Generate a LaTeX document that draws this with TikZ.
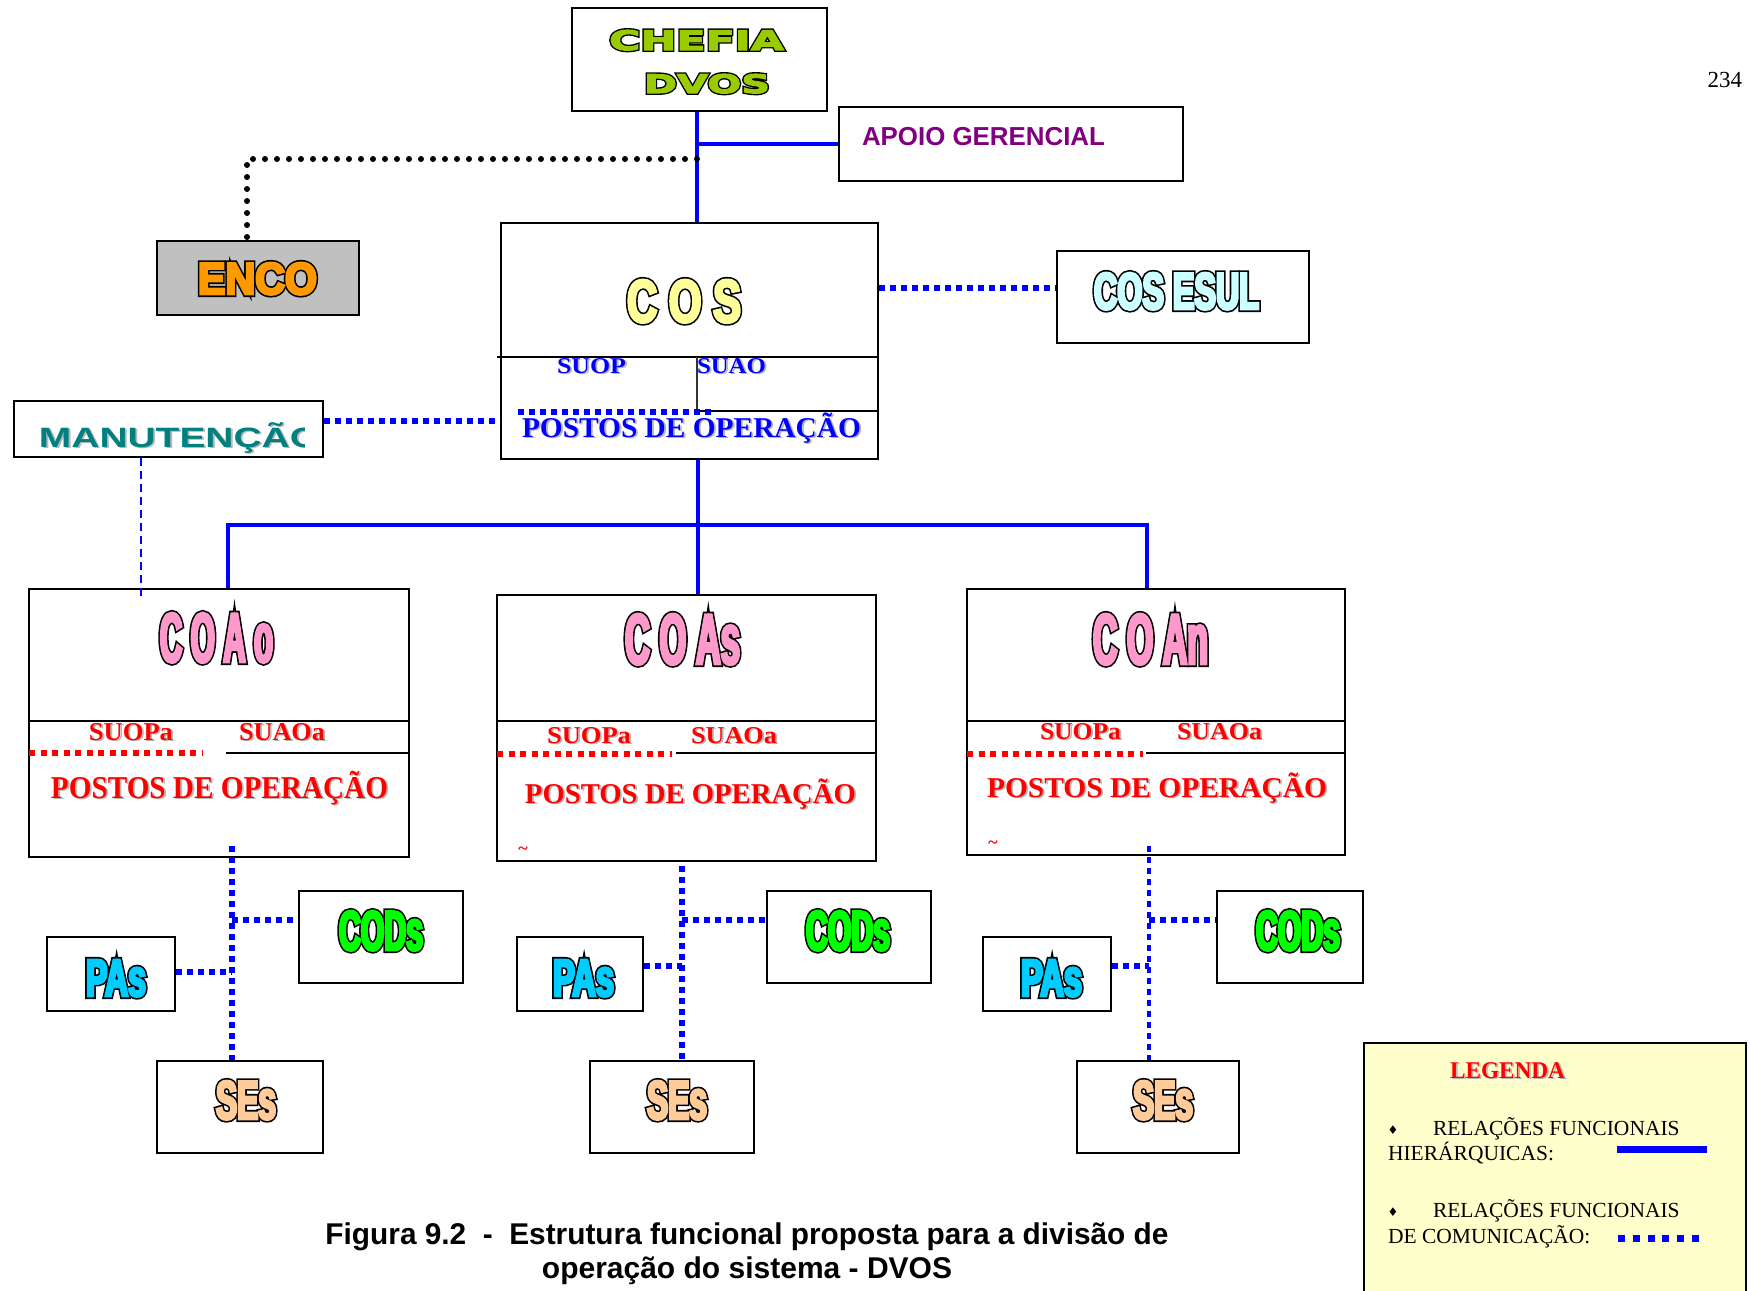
\documentclass[tikz,border=0pt]{standalone}
\usepackage{fontspec}
\usepackage{graphicx}
\usetikzlibrary{calc}
\setmainfont{Liberation Serif}
\newfontfamily\hv{Liberation Sans}
\newfontfamily\dejavu{DejaVu Sans}
\newlength\px \setlength\px{0.5pt}
\newcommand\fs[1]{\fontsize{#1}{#1}\selectfont}
\newcommand\wfit[2]{\resizebox{#1}{\height}{#2}}
% font features: #1 stretch, #2 size (number), #3 stroke width x100 (pt)
\newcommand\ofont[3]{\expanded{\noexpand\addfontfeatures{FakeStretch=#1,FakeBold=\fpeval{round(#3/#2,3)}}}}
% outlined title: #1 fill rgb, #2 width px, #3 height px, #4 stretch, #5 size, #6 family, #7 outer stroke, #8 inner stroke, #9 text
\newcommand\ttl[9]{\leavevmode
 \rlap{\special{pdf:bcolor [0 0 0] [0 0 0]}\resizebox{#2\px}{#3\px}{#6\bfseries\ofont{#4}{#5}{#7}\fs{#5pt}#9}\special{pdf:ecolor}}%
 {\special{pdf:bcolor [#1] [#1]}\resizebox{#2\px}{#3\px}{#6\bfseries\ofont{#4}{#5}{#8}\fs{#5pt}#9}\special{pdf:ecolor}}}
\newcommand\shd[2]{\setbox0=\hbox{#2}\leavevmode
 \rlap{\color{black!28}\kern1.8\px\lower1.8\px\copy0}{\color{#1}\box0}}
\newcommand\rtxt[4]{\shd{#1}{\wfit{#2\px}{\fs{#3}\bfseries #4}}}
\definecolor{apoiopurple}{HTML}{800080}
\definecolor{encogray}{HTML}{C0C0C0}
\definecolor{manteal}{HTML}{008080}
\definecolor{legyellow}{HTML}{FFFFCC}
\definecolor{hblue}{HTML}{0000FF}
\definecolor{hred}{HTML}{FF0000}
\tikzset{
 box/.style={draw=black, line width=2\px, inner sep=0pt},
 lbl/.style={inner sep=0pt, outer sep=0pt},
 hier/.style={draw=hblue, line width=4.5\px},
 comm/.style={draw=hblue, line width=6\px, dash pattern=on 6\px off 5\px},
 commv/.style={draw=hblue, line width=6\px, dash pattern=on 6\px off 5\px},
 commthin/.style={draw=hblue, line width=3.5\px, dash pattern=on 6\px off 5\px},
 blkdot/.style={draw=black, line width=6\px, line cap=round, dash pattern=on 0pt off 12\px},
 redot/.style={draw=hred, line width=5.5\px, dash pattern=on 6\px off 5.5\px},
 thindash/.style={draw=hblue, line width=2\px, dash pattern=on 8\px off 5\px},
 sep/.style={draw=black, line width=2\px},
}
\begin{document}
\begin{tikzpicture}[x=0.5pt,y=-0.5pt]
\useasboundingbox (0,0) rectangle (1750,1290);
% ---------- boxes
\node[box, minimum width=255\px, minimum height=103\px] (chefia) at (699.5,59.5) {};
\node[box, minimum width=344\px, minimum height=74\px] (apoio) at (1011,144) {};
\node[box, fill=encogray, minimum width=202\px, minimum height=74\px] (enco) at (258,278) {};
\node[box, minimum width=377\px, minimum height=236\px] (cos) at (689.5,341) {};
\node[box, minimum width=252\px, minimum height=92\px] (cosesul) at (1183,297) {};
\node[box, minimum width=309\px, minimum height=56\px] (manut) at (168.5,429) {};
\node[box, minimum width=380\px, minimum height=268\px] (coao) at (219,723) {};
\node[box, minimum width=379\px, minimum height=266\px] (coas) at (686.5,728) {};
\node[box, minimum width=378\px, minimum height=266\px] (coan) at (1156,722) {};
\node[box, minimum width=128\px, minimum height=74\px] (pas1) at (111,974) {};
\node[box, minimum width=164\px, minimum height=92\px] (cods1) at (381,937) {};
\node[box, minimum width=166\px, minimum height=92\px] (ses1) at (240,1107) {};
\node[box, minimum width=126\px, minimum height=74\px] (pas2) at (580,974) {};
\node[box, minimum width=164\px, minimum height=92\px] (cods2) at (849,937) {};
\node[box, minimum width=164\px, minimum height=92\px] (ses2) at (672,1107) {};
\node[box, minimum width=128\px, minimum height=74\px] (pas3) at (1047,974) {};
\node[box, minimum width=146\px, minimum height=92\px] (cods3) at (1290,937) {};
\node[box, minimum width=162\px, minimum height=92\px] (ses3) at (1158,1107) {};
\node[box, fill=legyellow, minimum width=382\px, minimum height=262\px] (legend) at (1555,1174) {};
% ---------- inner divisions
\draw[sep] (497,357) -- (878,357);
\draw[draw=black!80, line width=1.3\px] (697,357) -- (697,411);
\draw[sep] (697,411) -- (878,411);
\draw[comm] (518,412) -- (712,412);
\draw[sep] (29,721) -- (409,721);
\draw[sep] (226,753) -- (409,753);
\draw[redot] (29,753) -- (203,753);
\draw[sep] (497,721) -- (876,721);
\draw[sep] (676,753) -- (876,753);
\draw[redot] (497,754) -- (672,754);
\draw[sep] (967,721) -- (1345,721);
\draw[sep] (1146,753) -- (1345,753);
\draw[redot] (967,754) -- (1143,754);
% ---------- connectors
\coordinate (jA) at (697,144);
\coordinate (jB) at (697,159);
\coordinate (kE) at (247,159);
\draw[hier] (jA |- chefia.south) -- (jA |- cos.north);
\draw[hier] (jA) -- (apoio.west |- jA);
\draw[blkdot] (jB) -- (kE) -- (kE |- enco.north);
\coordinate (yE) at (0,288);
\draw[comm] (cos.east |- yE) -- (cosesul.west |- yE);
\coordinate (yM) at (0,421);
\draw[comm] (manut.east |- yM) -- (cos.west |- yM);
\coordinate (xM) at (141,0);
\draw[thindash] (manut.south -| xM) -- ($(coao.north -| xM)+(0,11)$);
\coordinate (hT) at (698,525);
\coordinate (xA) at (228,0);
\coordinate (xC) at (1147,0);
\draw[hier] (cos.south -| hT) -- (hT);
\draw[hier] (coao.north -| xA) |- (hT) -| (coan.north -| xC);
\draw[hier] (hT) -- (coas.north -| hT);
% lower groups
\coordinate (v1) at (232,0);
\coordinate (v2) at (682,0);
\coordinate (v3) at (1149,0);
\coordinate (r1) at (0,920);
\coordinate (p1) at (0,972);
\coordinate (p2) at (0,966);
\draw[commv] ($(coao.south -| v1)+(0,-12)$) -- (ses1.north -| v1);
\draw[commv] (v1 |- r1) -- (cods1.west |- r1);
\draw[commv] (pas1.east |- p1) -- (v1 |- p1);
\draw[commv] ($(coas.south -| v2)+(0,4)$) -- (ses2.north -| v2);
\draw[commv] (v2 |- r1) -- (cods2.west |- r1);
\draw[commv] (pas2.east |- p2) -- (v2 |- p2);
\draw[commthin] ($(coan.south -| v3)+(0,-10)$) -- (ses3.north -| v3);
\draw[commv] (v3 |- r1) -- (cods3.west |- r1);
\draw[commv] (pas3.east |- p2) -- (v3 |- p2);
% ---------- texts
\node[lbl, anchor=base] (tchefia) at (696.5,50) {\ttl{0.6 0.8 0}{175}{20}{1.56}{13.7}{\dejavu}{200}{60}{CHEFIA}};
\node[lbl, anchor=base] (tdvos) at (707,93) {\ttl{0.6 0.8 0}{126}{19}{1.53}{13}{\dejavu}{200}{60}{DVOS}};
\node[lbl, anchor=base west] (tapoio) at (862,145) {\hv\bfseries\fs{13pt}\color{apoiopurple}\wfit{243\px}{APOIO GERENCIAL}};
\node[lbl, anchor=base] (tenco) at (257.5,294) {\ttl{1 0.6 0}{119}{31}{0.98}{21.6}{\hv}{300}{140}{ENCO}};
\node[lbl, anchor=base] (tcos) at (684,322) {\ttl{1 1 0.6}{114}{42}{0.74}{29.3}{\hv}{300}{140}{C O S}};
\node[lbl, anchor=base] (tesul) at (1176.5,309) {\ttl{0.8 1 1}{165}{36}{0.65}{25.1}{\hv}{300}{140}{COS ESUL}};
\begin{scope}
\clip (14,401) rectangle (304,457);
\node[lbl, anchor=base west] (tman) at (39,447) {\shd{manteal}{\scalebox{1.39}[1]{\hv\bfseries\fs{14pt}MANUTENÇÃO}}};
\end{scope}
\node[lbl, anchor=base] (tsuop) at (591.5,373) {\rtxt{hblue}{69}{11.3pt}{SUOP}};
\node[lbl, anchor=base] (tsuao) at (731.5,373) {\rtxt{hblue}{69}{11.3pt}{SUAO}};
\node[lbl, anchor=base] (tpostos) at (691.5,437) {\rtxt{hblue}{339}{14.35pt}{POSTOS DE OPERAÇÃO}};
% COAo
\node[lbl, anchor=base] (tcoao) at (216.5,662) {\ttl{1 0.6 0.8}{113}{49}{0.46}{34.2}{\hv}{300}{140}{C O A o}};
\node[lbl, anchor=base] (tsuopa1) at (131,740) {\rtxt{hred}{84}{12.85pt}{SUOPa}};
\node[lbl, anchor=base] (tsuaoa1) at (282,740) {\rtxt{hred}{86}{12.85pt}{SUAOa}};
\node[lbl, anchor=base] (tpost1) at (219.5,798) {\rtxt{hred}{337}{15.9pt}{POSTOS DE OPERAÇÃO}};
% COAs
\node[lbl, anchor=base] (tcoas) at (682.5,664) {\ttl{1 0.6 0.8}{115}{50}{0.5}{34.9}{\hv}{300}{140}{C O As}};
\node[lbl, anchor=base] (tsuopa2) at (589,743) {\rtxt{hred}{84}{12.1pt}{SUOPa}};
\node[lbl, anchor=base] (tsuaoa2) at (734,743) {\rtxt{hred}{86}{12.1pt}{SUAOa}};
\node[lbl, anchor=base] (tpost2) at (690.5,803) {\rtxt{hred}{331}{14.35pt}{POSTOS DE OPERAÇÃO}};
\node[lbl] (tild2) at (523,851) {\color{hred}\fs{9pt}\bfseries\textasciitilde};
% COAn
\node[lbl, anchor=base] (tcoan) at (1150.5,664) {\ttl{1 0.6 0.8}{115}{50}{0.5}{34.9}{\hv}{300}{140}{C O An}};
\node[lbl, anchor=base] (tsuopa3) at (1080.5,739) {\rtxt{hred}{81}{12.1pt}{SUOPa}};
\node[lbl, anchor=base] (tsuaoa3) at (1219.5,739) {\rtxt{hred}{85}{12.1pt}{SUAOa}};
\node[lbl, anchor=base] (tpost3) at (1157,797) {\rtxt{hred}{340}{14.35pt}{POSTOS DE OPERAÇÃO}};
\node[lbl] (tild3) at (993,845) {\color{hred}\fs{9pt}\bfseries\textasciitilde};
% small boxes
\node[lbl, anchor=base] (tpas1) at (116,996) {\ttl{0 0.8 1}{60}{36}{0.64}{25.1}{\hv}{300}{140}{PAs}};
\node[lbl, anchor=base] (tpas2) at (583.5,996) {\ttl{0 0.8 1}{61}{36}{0.64}{25.1}{\hv}{300}{140}{PAs}};
\node[lbl, anchor=base] (tpas3) at (1051.5,996) {\ttl{0 0.8 1}{61}{36}{0.64}{25.1}{\hv}{300}{140}{PAs}};
\node[lbl, anchor=base] (tcods1) at (381,950) {\ttl{0 1 0}{84}{39}{0.57}{27.2}{\hv}{300}{140}{CODs}};
\node[lbl, anchor=base] (tcods2) at (848,950) {\ttl{0 1 0}{84}{39}{0.57}{27.2}{\hv}{300}{140}{CODs}};
\node[lbl, anchor=base] (tcods3) at (1298,950) {\ttl{0 1 0}{84}{39}{0.57}{27.2}{\hv}{300}{140}{CODs}};
\node[lbl, anchor=base] (tses1) at (246,1119) {\ttl{1 0.8 0.6}{60}{38}{0.62}{26.5}{\hv}{300}{140}{SEs}};
\node[lbl, anchor=base] (tses2) at (677,1119) {\ttl{1 0.8 0.6}{60}{38}{0.62}{26.5}{\hv}{300}{140}{SEs}};
\node[lbl, anchor=base] (tses3) at (1163,1119) {\ttl{1 0.8 0.6}{60}{38}{0.62}{26.5}{\hv}{300}{140}{SEs}};
% legend
\node[lbl, anchor=base west] (tleg) at (1450,1078) {\rtxt{hred}{115}{12pt}{LEGENDA}};
\node[lbl] (bul1) at (1393,1130) {\dejavu\fs{6pt}♦};
\node[lbl] (bul2) at (1393,1212) {\dejavu\fs{6pt}♦};
\node[lbl, anchor=base west] (lg1) at (1433,1135) {\fs{10.75pt}RELAÇÕES FUNCIONAIS};
\node[lbl, anchor=base west] (lg2) at (1388,1160) {\fs{10.75pt}HIERÁRQUICAS:};
\node[lbl, anchor=base west] (lg3) at (1433,1217) {\fs{10.75pt}RELAÇÕES FUNCIONAIS};
\node[lbl, anchor=base west] (lg4) at (1388,1243) {\fs{10.75pt}DE COMUNICAÇÃO:};
\coordinate (lh1) at (1617,1149);
\coordinate (lh2) at (1707,1149);
\draw[draw=hblue, line width=7\px] (lh1) -- (lh2);
\coordinate (lc1) at (1618,1238);
\coordinate (lc2) at (1701,1238);
\draw[draw=hblue, line width=7\px, dash pattern=on 7\px off 7.8\px] (lc1) -- (lc2);
% caption and page number
\node[lbl, anchor=base] (cap1) at (747,1244) {\hv\bfseries\fs{15pt}\wfit{843\px}{Figura 9.2 \ -\ \ Estrutura funcional proposta para a divisão de}};
\node[lbl, anchor=base] (cap2) at (747,1278) {\hv\bfseries\fs{15pt}operação do sistema - DVOS};
\node[lbl, anchor=base east] (pg) at (1742,87) {\fs{11.5pt}234};
\end{tikzpicture}
\end{document}
